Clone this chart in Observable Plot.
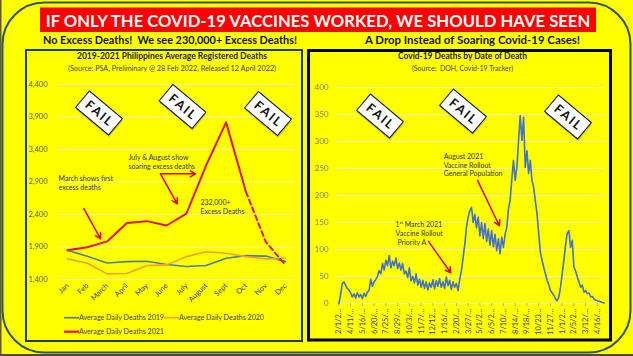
<!DOCTYPE html>
<html>
<head>
<meta charset="utf-8">
<script src="https://cdn.jsdelivr.net/npm/d3@7"></script>
<script src="https://cdn.jsdelivr.net/npm/@observablehq/plot@0.6"></script>
<style>
  body { margin: 0; background: #ffff00; }
  #page { position: relative; width: 633px; height: 356px; background: #ffff00; overflow: hidden; font-family: Lato, sans-serif; }
  #page > svg, #page > div { position: absolute; }
  text.pre { white-space: pre; }
</style>
</head>
<body>
<div id="page">
  <svg id="bg" width="633" height="356" style="left:0;top:0">
    <line x1="0.75" y1="0" x2="0.75" y2="356" stroke="#5a5a48" stroke-width="1.5"/>
    <line x1="0" y1="355" x2="633" y2="355" stroke="#4a4a40" stroke-width="2"/>
    <rect x="2.5" y="2.5" width="628" height="350" rx="42" ry="42" fill="none" stroke="#34506a" stroke-width="2"/>
    <rect x="40" y="7.5" width="556" height="24.5" fill="#ff0000"/>
    <text id="banner" x="318" y="26.6" text-anchor="middle" font-size="18.5" font-weight="bold" fill="#fff">IF ONLY THE COVID-19 VACCINES WORKED, WE SHOULD HAVE SEEN</text>
    <text class="pre" x="43" y="44" font-size="11" font-weight="bold" fill="#111" textLength="254" lengthAdjust="spacingAndGlyphs">No Excess Deaths!  We see 230,000+ Excess Deaths!</text>
    <text x="365" y="44" font-size="11" font-weight="bold" fill="#111" textLength="215" lengthAdjust="spacingAndGlyphs">A Drop Instead of Soaring Covid-19 Cases!</text>
    <rect x="26" y="50" width="276" height="291" fill="none" stroke="#1f3b5c" stroke-width="2"/>
    <rect x="308.5" y="50.5" width="302" height="289.5" fill="none" stroke="#000" stroke-width="3"/>
    <text x="77" y="59" font-size="8.5" font-weight="bold" fill="#222" textLength="190" lengthAdjust="spacingAndGlyphs">2019-2021 Philippines Average Registered Deaths</text>
    <text x="68" y="70.5" font-size="7" fill="#444" textLength="208" lengthAdjust="spacingAndGlyphs">(Source: PSA, Preliminary @ 28 Feb 2022, Released 12 April 2022)</text>
    <text x="398" y="59" font-size="8.5" font-weight="bold" fill="#222" textLength="129" lengthAdjust="spacingAndGlyphs">Covid-19 Deaths by Date of Death</text>
    <text class="pre" x="412" y="70.5" font-size="7" fill="#444" textLength="101" lengthAdjust="spacingAndGlyphs">(Source:  DOH, Covid-19 Tracker)</text>
  </svg>
  <div id="left" style="left:26px;top:50px"></div>
  <div id="right" style="left:307px;top:50px"></div>
  <svg id="fg" width="633" height="356" style="left:0;top:0;pointer-events:none"></svg>
</div>
<script>
// ---------- data ----------
const months = ["Jan","Feb","March","April","May","June","July","August","Sept","Oct","Nov","Dec"];
const deaths2019 = [1850,1757,1655,1675,1680,1630,1600,1615,1727,1767,1760,1675];
const deaths2020 = [1717,1650,1487,1492,1615,1625,1752,1828,1803,1752,1717,1727];
const deaths2021 = [1850,1895,1986,2268,2298,2231,2415,3160,3817,2750,1980,1620];
const leftYTicks = [1400,1900,2400,2900,3400,3900,4400];

const dateLabels = ["2/1/2…","4/11/…","5/16/…","6/20/…","7/25/…","8/29/…","10/3/…","11/7/…","12/12…","1/16/…","2/20/…","3/27/…","5/1/2…","6/5/2…","7/10/…","8/14/…","9/18/…","10/23…","11/27…","1/1/2…","2/5/2…","3/12/…","4/16/…"];
const labelStepDays = 35;
const rightYTicks = [0,50,100,150,200,250,300,350,400];
const covidStepDays = 5;
const covidDeaths = [
  0,15,36,40,34,28,25,20,12,18,10,20,12,17,9,19,13,21,
  24,45,32,40,44,50,61,55,74,62,80,70,89,66,78,70,84,65,75,62,74,55,
  60,48,66,42,50,38,55,34,45,30,43,28,40,25,38,30,44,27,42,32,
  46,30,40,28,49,33,43,26,40,30,37,24,45,61,85,110,141,160,172,178,
  150,165,140,160,125,150,120,148,115,138,108,135,105,128,98,120,92,123,104,128,
  141,175,191,230,265,228,252,300,348,302,345,252,283,241,265,228,215,190,167,130,
  95,80,67,55,43,35,24,20,15,9,5,12,30,55,80,108,130,135,104,117,
  67,60,49,40,30,34,21,24,18,19,12,13,8,6,5,4,3,2,1
];

// annotations (in data coordinates)
const leftNotes = [
  {m: -0.45, v: 2886, text: "March shows first\nexcess deaths"},
  {m: 3.08, v: 3208, text: "July & August show\nsoaring excess deaths"},
  {m: 6.71, v: 2525, text: "232,000+\nExcess Deaths"}
];
const leftArrows = [
  {m1: 0.83, v1: 2492, m2: 1.67, v2: 2026},
  {m1: 4.69, v1: 3026, m2: 6.46, v2: 3026},
  {m1: 4.69, v1: 3026, m2: 5.54, v2: 2565}
];
const rightNotes = [
  {d: 312, v: 257, text: "August 2021\nVaccine Rollout\nGeneral Population"},
  {d: 169, v: 130, text: "1ˢᵗ March 2021\nVaccine Rollout\n Priority A"}
];
const rightArrows = [
  {d1: 413, v1: 228, d2: 478, v2: 144},
  {d1: 267, v1: 115, d2: 333, v2: 57}
];

// ---------- styles ----------
const gridColor = "#f3f3b0";
const c2019 = "#4a7f9e", c2020 = "#f0a030", c2021 = "#e0141a", cCovid = "#4472c4", cArrow = "#e00000";

// fit banner text to the banner width
{
  const b = document.getElementById("banner");
  const w = b.getComputedTextLength();
  if (w > 0) b.setAttribute("font-size", (18.5 * 545 / w).toFixed(2));
}

// ---------- left chart ----------
const monthIdx = months.map((_, i) => i);
const t2019 = months.map((m, i) => ({i, v: deaths2019[i]}));
const t2020 = months.map((m, i) => ({i, v: deaths2020[i]}));
const t2021 = months.map((m, i) => ({i, v: deaths2021[i]}));

const left = Plot.plot({
  width: 276, height: 291,
  marginLeft: 31, marginRight: 7, marginTop: 34, marginBottom: 62,
  style: {background: "transparent", fontFamily: "Lato, sans-serif", overflow: "visible"},
  x: {type: "linear", domain: [-0.5, 11.5]},
  y: {domain: [1400, 4400]},
  marks: [
    Plot.gridY(leftYTicks, {stroke: gridColor, strokeOpacity: 1}),
    Plot.axisY(leftYTicks, {tickSize: 0, tickPadding: 10, tickFormat: d3.format(","), fill: "#595959", fontSize: 7.5, label: null}),
    Plot.axisX(monthIdx, {tickSize: 0, tickPadding: 5, tickRotate: -45, tickFormat: i => months[i], fill: "#404040", fontSize: 7.5, label: null}),
    Plot.line(t2019, {x: "i", y: "v", stroke: c2019, strokeWidth: 1.6}),
    Plot.line(t2020, {x: "i", y: "v", stroke: c2020, strokeWidth: 1.6}),
    Plot.line(t2021.filter(d => d.i <= 9), {x: "i", y: "v", stroke: c2021, strokeWidth: 2}),
    Plot.line(t2021.filter(d => d.i >= 9), {x: "i", y: "v", stroke: c2021, strokeWidth: 2, strokeDasharray: "5,3.5"}),
    Plot.arrow(leftArrows, {x1: "m1", y1: "v1", x2: "m2", y2: "v2", stroke: cArrow, strokeWidth: 1.5, headLength: 6}),
    Plot.text(leftNotes, {x: "m", y: "v", text: "text", textAnchor: "start", lineAnchor: "middle", lineHeight: 1.3, fontSize: 7, fill: "#333"})
  ]
});
document.getElementById("left").appendChild(left);

// ---------- right chart ----------
const tickDays = dateLabels.map((_, i) => i * labelStepDays);
const covid = covidDeaths.map((v, i) => ({d: i * covidStepDays, v}));

const right = Plot.plot({
  width: 305, height: 290,
  marginLeft: 30, marginRight: 9, marginTop: 37, marginBottom: 37,
  style: {background: "transparent", fontFamily: "Lato, sans-serif", overflow: "visible"},
  x: {domain: [-4, 788]},
  y: {domain: [0, 400]},
  marks: [
    Plot.gridY(rightYTicks, {stroke: gridColor, strokeOpacity: 1}),
    Plot.axisY(rightYTicks, {tickSize: 0, tickPadding: 9, fill: "#7f7f7f", fontSize: 8, label: null}),
    Plot.axisX(tickDays, {tickSize: 3, tickPadding: 2, tickRotate: -90, tickFormat: d => dateLabels[tickDays.indexOf(d)], fill: "#404040", stroke: "#b0b0a0", fontSize: 7.5, label: null}),
    Plot.line(covid, {x: "d", y: "v", stroke: cCovid, strokeWidth: 1.6}),
    Plot.arrow(rightArrows, {x1: "d1", y1: "v1", x2: "d2", y2: "v2", stroke: cArrow, strokeWidth: 1.5, headLength: 6}),
    Plot.text(rightNotes, {x: "d", y: "v", text: "text", textAnchor: "start", lineAnchor: "middle", lineHeight: 1.25, fontSize: 7, fill: "#333"})
  ]
});
document.getElementById("right").appendChild(right);

// ---------- decorations: FAIL signs & legend ----------
const failSigns = [[99, 113], [182.5, 106.5], [268, 113.5], [380, 116], [463, 111], [568, 117]];
const fg = d3.select("#fg");
for (const [cx, cy] of failSigns) {
  const g = fg.append("g").attr("transform", `translate(${cx},${cy}) rotate(40)`);
  g.append("rect").attr("x", -21).attr("y", -10.5).attr("width", 43).attr("height", 21.5)
    .attr("transform", "translate(1.2,1.2)").attr("fill", "#8a8a40").attr("opacity", 0.45);
  g.append("rect").attr("x", -21.5).attr("y", -10.75).attr("width", 43).attr("height", 21.5)
    .attr("fill", "#fff").attr("stroke", "#111").attr("stroke-width", 1);
  g.append("text").attr("x", 0).attr("y", 4.3).attr("text-anchor", "middle")
    .attr("font-size", 12.5).attr("font-weight", "bold").attr("fill", "#111")
    .attr("textLength", 31).attr("lengthAdjust", "spacing").text("FAIL");
}
const legendItems = [
  {label: "Average Daily Deaths 2019", color: c2019, w: 1.6, x: 64, y: 317.7},
  {label: "Average Daily Deaths 2020", color: c2020, w: 1.6, x: 164, y: 317.7},
  {label: "Average Daily Deaths 2021", color: c2021, w: 2.2, x: 64, y: 331.7}
];
for (const it of legendItems) {
  fg.append("line").attr("x1", it.x).attr("x2", it.x + 15).attr("y1", it.y).attr("y2", it.y)
    .attr("stroke", it.color).attr("stroke-width", it.w);
  fg.append("text").attr("x", it.x + 15).attr("y", it.y + 2.6).attr("font-size", 7.5).attr("fill", "#404040")
    .attr("textLength", 85).attr("lengthAdjust", "spacingAndGlyphs").text(it.label);
}
</script>
</body>
</html>
